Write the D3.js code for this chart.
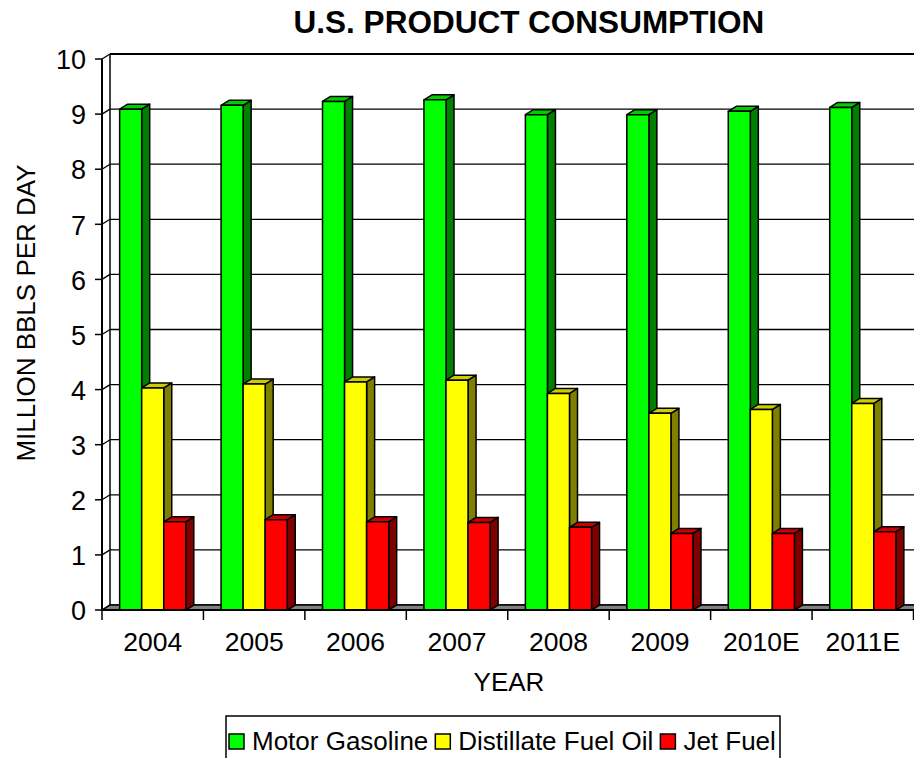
<!DOCTYPE html>
<html>
<head>
<meta charset="utf-8">
<script src="https://cdn.jsdelivr.net/npm/d3@7"></script>
<style>
  body { margin: 0; background: #fff; }
  svg { display: block; font-family: Arial, "Liberation Sans", sans-serif; }
</style>
</head>
<body>
<svg id="chart" width="914" height="758"></svg>
<script>
// chart data
const years = ["2004", "2005", "2006", "2007", "2008", "2009", "2010E", "2011E"];
const seriesNames = ["Motor Gasoline", "Distillate Fuel Oil", "Jet Fuel"];
const gasoline = [9.09, 9.16, 9.23, 9.26, 8.99, 8.99, 9.05, 9.12];
const distillate = [4.03, 4.10, 4.14, 4.17, 3.93, 3.57, 3.64, 3.75];
const jetFuel = [1.60, 1.64, 1.60, 1.59, 1.50, 1.39, 1.39, 1.42];
const yTicks = [0, 1, 2, 3, 4, 5, 6, 7, 8, 9, 10];

const seriesValues = [gasoline, distillate, jetFuel];
const colors = [
    { front: "#00ff00", top: "#00cc00", side: "#008000" },
    { front: "#ffff00", top: "#cccc00", side: "#808000" },
    { front: "#ff0000", top: "#cc0000", side: "#800000" }
];

const plotLeft = 102, plotRight = 913.5, plotBottom = 610, plotTop = 59;
const dx = 8, dy = 5; // 3d depth offset

const svg = d3.select("#chart");

const x0 = d3.scaleBand().domain(years).range([plotLeft, plotRight]);
const x1 = d3.scaleBand().domain(seriesNames).range([0, x0.bandwidth()])
    .paddingInner(0).paddingOuter(0.8);
const y = d3.scaleLinear().domain([0, 10]).range([plotBottom, plotTop]);

// back wall gridlines
svg.append("g").selectAll("line")
    .data(yTicks)
    .join("line")
    .attr("x1", plotLeft + dx).attr("x2", 940)
    .attr("y1", d => y(d) - dy).attr("y2", d => y(d) - dy)
    .attr("stroke", "#000")
    .attr("stroke-width", d => d === 10 ? 2 : 1.3);

// wall left edge
svg.append("line")
    .attr("x1", plotLeft + dx).attr("x2", plotLeft + dx)
    .attr("y1", y(10) - dy).attr("y2", plotBottom - dy)
    .attr("stroke", "#000").attr("stroke-width", 1.5);

// floor
svg.append("polygon")
    .attr("points", `${plotLeft},${plotBottom} ${plotLeft + dx},${plotBottom - dy} 940,${plotBottom - dy} 940,${plotBottom}`)
    .attr("fill", "#808080")
    .attr("stroke", "#000").attr("stroke-width", 1.3);

// y axis (front) with diagonal tick connectors
const yAxis = svg.append("g");
yAxis.append("line")
    .attr("x1", plotLeft).attr("x2", plotLeft)
    .attr("y1", y(10)).attr("y2", plotBottom)
    .attr("stroke", "#000").attr("stroke-width", 2);
yAxis.selectAll(".tick")
    .data(yTicks)
    .join("g")
    .each(function (d) {
        const g = d3.select(this);
        g.append("line")
            .attr("x1", plotLeft - 7).attr("x2", plotLeft)
            .attr("y1", y(d)).attr("y2", y(d))
            .attr("stroke", "#000").attr("stroke-width", 1.5);
        g.append("line")
            .attr("x1", plotLeft).attr("x2", plotLeft + dx)
            .attr("y1", y(d)).attr("y2", y(d) - dy)
            .attr("stroke", "#000").attr("stroke-width", 1.3);
        g.append("text")
            .attr("x", plotLeft - 16).attr("y", y(d))
            .attr("dy", "0.38em")
            .attr("text-anchor", "end")
            .attr("font-size", 27)
            .text(d);
    });

// bars
const bars = svg.append("g");
years.forEach((yr, i) => {
    seriesNames.forEach((s, j) => {
        const v = seriesValues[j][i];
        const bx = x0(yr) + x1(s), bw = x1.bandwidth();
        const by = y(v), b0 = y(0);
        const g = bars.append("g").attr("stroke", "#000").attr("stroke-width", 1.5)
            .attr("stroke-linejoin", "round");
        g.append("polygon")
            .attr("points", `${bx + bw},${by} ${bx + bw + dx},${by - dy} ${bx + bw + dx},${b0 - dy} ${bx + bw},${b0}`)
            .attr("fill", colors[j].side);
        g.append("polygon")
            .attr("points", `${bx},${by} ${bx + dx},${by - dy} ${bx + bw + dx},${by - dy} ${bx + bw},${by}`)
            .attr("fill", colors[j].top);
        g.append("rect")
            .attr("x", bx).attr("y", by)
            .attr("width", bw).attr("height", b0 - by)
            .attr("fill", colors[j].front);
    });
});

// x axis
const xAxis = svg.append("g");
xAxis.append("line")
    .attr("x1", plotLeft).attr("x2", 940)
    .attr("y1", plotBottom).attr("y2", plotBottom)
    .attr("stroke", "#000").attr("stroke-width", 2);
xAxis.selectAll(".xtick")
    .data(years.concat(["end"]))
    .join("line")
    .attr("x1", (d, i) => plotLeft + i * x0.step())
    .attr("x2", (d, i) => plotLeft + i * x0.step())
    .attr("y1", plotBottom).attr("y2", plotBottom + 10)
    .attr("stroke", "#000").attr("stroke-width", 1.5);
xAxis.selectAll(".xlabel")
    .data(years)
    .join("text")
    .attr("x", d => x0(d) + x0.bandwidth() / 2)
    .attr("y", 651)
    .attr("text-anchor", "middle")
    .attr("font-size", 26.5)
    .text(d => d);

// titles
svg.append("text")
    .attr("x", 529).attr("y", 33)
    .attr("text-anchor", "middle")
    .attr("font-size", 31.5).attr("font-weight", "bold")
    .text("U.S. PRODUCT CONSUMPTION");

svg.append("text")
    .attr("x", 509).attr("y", 691)
    .attr("text-anchor", "middle")
    .attr("font-size", 26)
    .text("YEAR");

svg.append("text")
    .attr("transform", "translate(35,313) rotate(-90)")
    .attr("text-anchor", "middle")
    .attr("font-size", 26)
    .text("MILLION BBLS PER DAY");

// legend
const legend = svg.append("g");
legend.append("rect")
    .attr("x", 226).attr("y", 716)
    .attr("width", 554).attr("height", 60)
    .attr("fill", "#fff").attr("stroke", "#000").attr("stroke-width", 1.5);
let lx = 229;
seriesNames.forEach((s, j) => {
    legend.append("rect")
        .attr("x", lx).attr("y", 734)
        .attr("width", 15).attr("height", 15)
        .attr("fill", colors[j].front)
        .attr("stroke", "#000").attr("stroke-width", 1.5);
    const t = legend.append("text")
        .attr("x", lx + 23).attr("y", 750)
        .attr("font-size", 26)
        .text(s);
    lx += 23 + t.node().getComputedTextLength() + 7;
});
</script>
</body>
</html>
